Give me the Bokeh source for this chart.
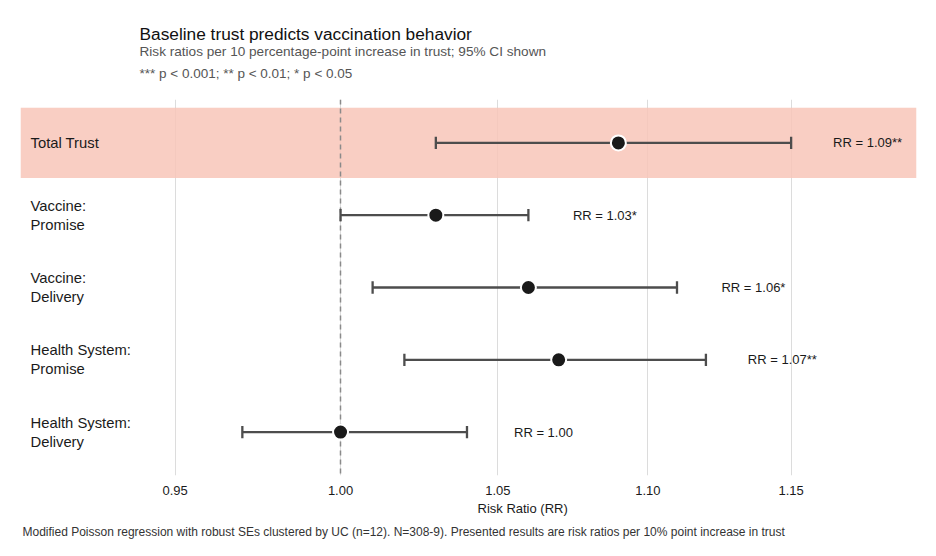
from bokeh.plotting import figure
from bokeh.models import (ColumnDataSource, FixedTicker, CustomJSTickFormatter, Range1d, Title)
from bokeh.core.properties import value
from bokeh.embed import file_html
from bokeh.resources import INLINE

# ---- data ----
labels = ["Total Trust", "Vaccine:\nPromise", "Vaccine:\nDelivery",
          "Health System:\nPromise", "Health System:\nDelivery"]
rr = [1.09, 1.03, 1.06, 1.07, 1.00]
ci_low = [1.03, 1.00, 1.01, 1.02, 0.97]
ci_high = [1.15, 1.06, 1.11, 1.12, 1.04]
stars = ["**", "*", "*", "**", ""]
highlight = [True, False, False, False, False]
x_ticks = [0.95, 1.00, 1.05, 1.10, 1.15]
ref_value = 1.00

n = len(labels)
ypos = [n - i for i in range(n)]
rr_text = ["RR = %.2f%s" % (v, s) for v, s in zip(rr, stars)]
label_pad = 1.024
rr_text_x = [h * label_pad for h in ci_high]

X_START, X_END = 0.9055, 1.1956
FONT = "Liberation Sans"
cap = 0.085

src = ColumnDataSource(dict(y=ypos, rr=rr, lo=ci_low, hi=ci_high, lab=labels,
                            rrt=rr_text, rrx=rr_text_x,
                            ylo=[y - cap for y in ypos], yhi=[y + cap for y in ypos]))

p = figure(width=936, height=543, x_axis_type="log",
           x_range=Range1d(X_START, X_END), y_range=Range1d(0.4, 5.6),
           output_backend="svg", toolbar_location=None,
           min_border_left=20, min_border_right=20, min_border_top=0,
           min_border_bottom=0, outline_line_color=None,
           background_fill_color="white", border_fill_color="white")

# highlight band
hy = [y for y, h in zip(ypos, highlight) if h]
p.hbar(y=hy, left=X_START, right=X_END, height=0.97,
       fill_color="#F8C6B8", fill_alpha=0.85, line_color=None)

# reference line (glyph, so points sit on top)
p.vspan(x=[ref_value], line_color="#8A8A8A", line_width=1.5, line_dash="5 4")

# error bars
p.segment(x0="lo", x1="hi", y0="y", y1="y", source=src, line_color="#4D4D4D", line_width=2.3)
p.segment(x0="lo", x1="lo", y0="ylo", y1="yhi", source=src, line_color="#4D4D4D", line_width=2.3)
p.segment(x0="hi", x1="hi", y0="ylo", y1="yhi", source=src, line_color="#4D4D4D", line_width=2.3)

# points
p.scatter(x="rr", y="y", source=src, size=15, fill_color="#1A1A1A",
          line_color="white", line_width=2)

# RR labels
p.text(x="rrx", y="y", text="rrt", source=src, text_font=value(FONT),
       text_font_size="13px", text_color="#1A1A1A", text_align="center",
       text_baseline="middle")

# category labels
p.text(x=X_START, y="y", text="lab", source=src, x_offset=10,
       text_font=value(FONT), text_font_size="14.8px", text_color="#1A1A1A",
       text_align="left", text_baseline="middle", text_line_height=1.2)

# axes
p.yaxis.visible = False
p.ygrid.visible = False
p.xaxis.ticker = FixedTicker(ticks=x_ticks, minor_ticks=[])
p.xaxis.formatter = CustomJSTickFormatter(code="return tick.toFixed(2);")
p.xaxis.axis_line_color = None
p.xaxis.major_tick_line_color = None
p.xaxis.minor_tick_line_color = None
p.xaxis.major_tick_out = 0
p.xaxis.minor_tick_out = 0
p.xaxis.major_label_text_font = FONT
p.xaxis.major_label_text_font_size = "13px"
p.xaxis.major_label_text_color = "#1A1A1A"
p.xaxis.major_label_standoff = 10
p.xgrid.ticker = FixedTicker(ticks=x_ticks)
p.xgrid.grid_line_color = "#DCDCDC"
p.xgrid.grid_line_width = 1
p.xgrid.minor_grid_line_color = None

# below: axis title, then caption
p.add_layout(Title(text="Risk Ratio (RR)", align="left", offset=457, text_font=FONT,
                   text_font_size="13px", text_font_style="normal", text_color="#1A1A1A",
                   standoff=2.5), "below")
p.add_layout(Title(text="Modified Poisson regression with robust SEs clustered by UC (n=12). "
                        "N=308-9). Presented results are risk ratios per 10% point increase in trust",
                   align="left", offset=2, text_font=FONT, text_font_size="12px",
                   text_font_style="normal", text_color="#333333", standoff=9.6), "below")

# above: spacer, notes, subtitle, title, spacer (innermost first)
p.add_layout(Title(text=" ", text_font_size="4px", standoff=6.1), "above")
p.add_layout(Title(text="*** p < 0.001; ** p < 0.01; * p < 0.05", align="left", offset=119,
                   text_font=FONT, text_font_size="13.5px", text_font_style="normal",
                   text_color="#555555", standoff=11.7), "above")
p.add_layout(Title(text="Risk ratios per 10 percentage-point increase in trust; 95% CI shown",
                   align="left", offset=119, text_font=FONT, text_font_size="13.6px",
                   text_font_style="normal", text_color="#555555", standoff=-2), "above")
p.add_layout(Title(text="Baseline trust predicts vaccination behavior", align="left", offset=119,
                   text_font=FONT, text_font_size="17.3px", text_font_style="normal",
                   text_color="#111111", standoff=-2), "above")
p.add_layout(Title(text=" ", text_font_size="4px", standoff=14.6), "above")

open("out.html", "w").write(file_html(p, INLINE))
